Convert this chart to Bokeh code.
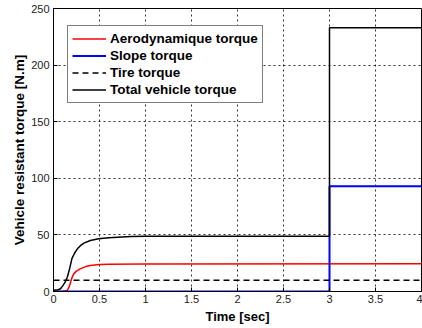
from bokeh.plotting import figure
from bokeh.models import Legend, LegendItem, Range1d, FixedTicker, Title
from bokeh.embed import file_html
from bokeh.resources import INLINE

# Data
t_aero = [0, 0.1, 0.15, 0.17, 0.185, 0.2, 0.22, 0.25, 0.29, 0.35, 0.4, 0.5, 0.6, 1.0, 4.0]
aero = [0, 0, 1, 4, 8, 12, 15.6, 18, 20, 22, 23, 23.8, 24, 24.3, 24.5]

t_slope = [0, 3, 3, 4]
slope = [0, 0, 93, 93]

t_tire = [0, 4]
tire = [10, 10]

t_total = [0, 0.05, 0.076, 0.1, 0.125, 0.15, 0.175, 0.2, 0.23, 0.26, 0.3, 0.33, 0.4, 0.49, 0.6, 0.84, 1.0, 2.0, 3.0, 3.0, 4.0]
total = [1, 1.5, 2.4, 5, 8, 12.6, 20, 29, 34, 37.7, 41, 42.7, 45, 46.6, 47.5, 48.6, 48.8, 48.8, 48.8, 233, 233]

x_ticks = [0, 0.5, 1, 1.5, 2, 2.5, 3, 3.5, 4]
y_ticks = [0, 50, 100, 150, 200, 250]

labels = ["Aerodynamique torque", "Slope torque", "Tire torque", "Total vehicle torque"]
x_title = "Time [sec]"
y_title = "Vehicle resistant torque [N.m]"

FONT = "Liberation Sans"

p = figure(width=422, height=328, output_backend="svg", toolbar_location=None,
           x_range=Range1d(0, 4), y_range=Range1d(0, 250),
           min_border_left=53, min_border_right=1, min_border_top=8, min_border_bottom=37)
p.background_fill_color = "white"
p.border_fill_color = "white"
p.outline_line_color = "black"
p.outline_line_width = 1

r_aero = p.line(t_aero, aero, line_color="#FF0000", line_width=1.5)
r_slope = p.line(t_slope, slope, line_color="#0000FF", line_width=2)
r_tire = p.line(t_tire, tire, line_color="black", line_width=1.5, line_dash="6 4")
r_total = p.line(t_total, total, line_color="black", line_width=1.5)

for ax in (p.xaxis[0], p.yaxis[0]):
    ax.major_tick_in = 4
    ax.major_tick_out = 0
    ax.minor_tick_in = 0
    ax.minor_tick_out = 0
    ax.axis_line_color = "black"
    ax.major_label_text_font = FONT
    ax.major_label_text_font_size = "11px"
    ax.major_label_text_color = "#222222"
    ax.axis_label_text_font = FONT
    ax.axis_label_text_font_style = "bold"
    ax.axis_label_text_color = "black"

p.xaxis[0].ticker = FixedTicker(ticks=x_ticks)
p.yaxis[0].ticker = FixedTicker(ticks=y_ticks)
p.xaxis[0].axis_label = x_title
p.xaxis[0].axis_label_text_font_size = "13px"
p.xaxis[0].axis_label_standoff = 3
p.xaxis[0].major_label_standoff = 3
p.yaxis[0].major_label_standoff = 4

ytitle = Title(text=y_title, align="center", offset=8, text_font=FONT,
               text_font_size="13.5px", text_font_style="bold", text_color="black",
               standoff=4)
p.add_layout(ytitle, "left")

p.xgrid.ticker = FixedTicker(ticks=x_ticks)
p.ygrid.ticker = FixedTicker(ticks=y_ticks)
for g in (p.xgrid[0], p.ygrid[0]):
    g.grid_line_color = "black"
    g.grid_line_dash = "2 3"
    g.grid_line_width = 1
    g.grid_line_alpha = 0.8

legend = Legend(items=[LegendItem(label=labels[0], renderers=[r_aero]),
                       LegendItem(label=labels[1], renderers=[r_slope]),
                       LegendItem(label=labels[2], renderers=[r_tire]),
                       LegendItem(label=labels[3], renderers=[r_total])],
                location=(14, 188))
legend.label_text_font = FONT
legend.label_text_font_size = "13.5px"
legend.label_text_font_style = "bold"
legend.label_text_color = "black"
legend.border_line_color = "black"
legend.border_line_width = 1
legend.background_fill_color = "white"
legend.background_fill_alpha = 1
legend.padding = 4
legend.spacing = 0
legend.margin = 0
legend.label_height = 17
legend.glyph_height = 17
legend.glyph_width = 34
legend.label_standoff = 4
p.add_layout(legend, "center")

open("out.html", "w").write(file_html(p, INLINE))
